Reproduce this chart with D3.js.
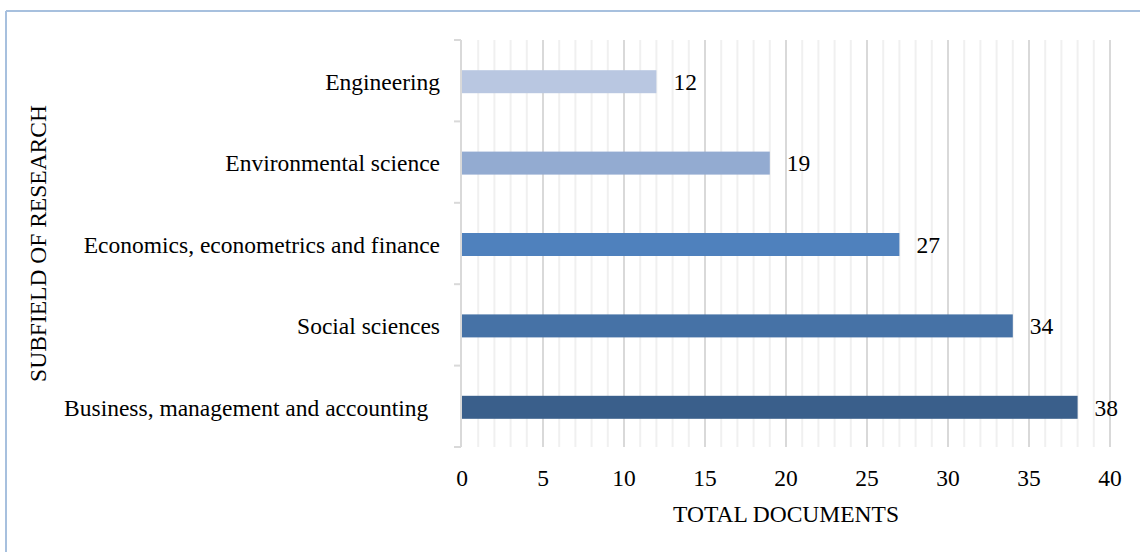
<!DOCTYPE html>
<html>
<head>
<meta charset="utf-8">
<script src="https://cdn.jsdelivr.net/npm/d3@7"></script>
<style>
  body { margin: 0; background: #fff; }
  svg text { font-family: "Liberation Serif", "Times New Roman", serif; fill: #000; }
</style>
</head>
<body>
<div id="chart"></div>
<script>
// subfields, bottom to top as drawn
var categories = ["Business, management and accounting\u00a0\u00a0", "Social sciences", "Economics, econometrics and finance", "Environmental science", "Engineering"];
var values = [38, 34, 27, 19, 12];
var barColors = ["#3a5f8b", "#4672a6", "#4f81bd", "#93abd1", "#b9c7e1"];
var xTicks = [0, 5, 10, 15, 20, 25, 30, 35, 40];

var W = 1140, H = 552;
var mLeft = 462, mRight = 1110, mTop = 40, mBottom = 447;
var fontSize = "23.5px";

var svg = d3.select("#chart").append("svg")
    .attr("width", W)
    .attr("height", H);

// outer frame (only top and left edges visible in the picture)
svg.append("line").attr("x1", 6).attr("y1", 11).attr("x2", W).attr("y2", 11)
    .attr("stroke", "#a7c0de").attr("stroke-width", 2);
svg.append("line").attr("x1", 6).attr("y1", 11).attr("x2", 6).attr("y2", H)
    .attr("stroke", "#a7c0de").attr("stroke-width", 2);

var x = d3.scaleLinear().domain([0, 40]).range([mLeft, mRight]);
var y = d3.scaleBand().domain(categories.slice().reverse()).range([mTop, mBottom]);

// minor gridlines
svg.selectAll("line.minor")
    .data(d3.range(1, 40).filter(function (d) { return d % 5 !== 0; }))
    .enter()
    .append("line")
    .attr("class", "minor")
    .attr("x1", function (d) { return x(d); })
    .attr("x2", function (d) { return x(d); })
    .attr("y1", mTop)
    .attr("y2", mBottom)
    .attr("stroke", "#f0f0f0")
    .attr("stroke-width", 2);

// major gridlines
svg.selectAll("line.major")
    .data(xTicks.slice(1))
    .enter()
    .append("line")
    .attr("class", "major")
    .attr("x1", function (d) { return x(d); })
    .attr("x2", function (d) { return x(d); })
    .attr("y1", mTop)
    .attr("y2", mBottom)
    .attr("stroke", "#d9d9d9")
    .attr("stroke-width", 2);

// vertical axis line + ticks at band edges
svg.append("line")
    .attr("x1", mLeft - 1).attr("x2", mLeft - 1)
    .attr("y1", mTop).attr("y2", mBottom)
    .attr("stroke", "#d9d9d9").attr("stroke-width", 2);

var edges = y.domain().map(function (d) { return y(d); }).concat([mBottom]);
svg.selectAll("line.ytick")
    .data(edges)
    .enter()
    .append("line")
    .attr("class", "ytick")
    .attr("x1", mLeft - 8).attr("x2", mLeft - 1)
    .attr("y1", function (d) { return d; })
    .attr("y2", function (d) { return d; })
    .attr("stroke", "#d9d9d9").attr("stroke-width", 2);

// bars
var barH = 23;
svg.selectAll("rect.bar")
    .data(categories)
    .enter()
    .append("rect")
    .attr("class", "bar")
    .attr("x", x(0))
    .attr("y", function (d) { return y(d) + y.bandwidth() / 2 - barH / 2 + 1; })
    .attr("width", function (d, i) { return x(values[i]) - x(0); })
    .attr("height", barH)
    .attr("fill", function (d, i) { return barColors[i]; });

// value labels
svg.selectAll("text.val")
    .data(categories)
    .enter()
    .append("text")
    .attr("class", "val")
    .text(function (d, i) { return values[i]; })
    .attr("x", function (d, i) { return x(values[i]) + 17; })
    .attr("y", function (d) { return y(d) + y.bandwidth() / 2 + 1; })
    .attr("dy", "0.35em")
    .attr("font-size", fontSize);

// category labels
svg.selectAll("text.cat")
    .data(categories)
    .enter()
    .append("text")
    .attr("class", "cat")
    .text(function (d) { return d; })
    .attr("x", 440)
    .attr("y", function (d) { return y(d) + y.bandwidth() / 2 + 1; })
    .attr("dy", "0.35em")
    .attr("text-anchor", "end")
    .style("white-space", "pre")
    .attr("font-size", fontSize);

// x tick labels
svg.selectAll("text.xt")
    .data(xTicks)
    .enter()
    .append("text")
    .attr("class", "xt")
    .text(function (d) { return d; })
    .attr("x", function (d) { return x(d); })
    .attr("y", 478)
    .attr("dy", "0.35em")
    .attr("text-anchor", "middle")
    .attr("font-size", fontSize);

// axis titles
svg.append("text")
    .text("TOTAL DOCUMENTS")
    .attr("x", (mLeft + mRight) / 2)
    .attr("y", 514)
    .attr("dy", "0.35em")
    .attr("text-anchor", "middle")
    .attr("font-size", fontSize);

svg.append("text")
    .text("SUBFIELD OF RESEARCH")
    .attr("transform", "translate(38," + ((mTop + mBottom) / 2) + ") rotate(-90)")
    .attr("dy", "0.35em")
    .attr("text-anchor", "middle")
    .attr("font-size", fontSize);
</script>
</body>
</html>
